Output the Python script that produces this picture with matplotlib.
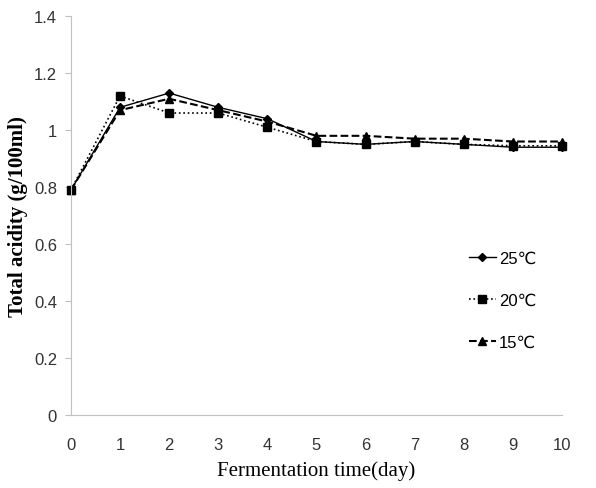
import numpy as np
import matplotlib.pyplot as plt

# Fermentation days
days = np.arange(0, 11)

# Total acidity (g/100ml) for each temperature
acid_25 = [0.79, 1.08, 1.13, 1.08, 1.04, 0.96, 0.95, 0.96, 0.95, 0.94, 0.94]
acid_20 = [0.79, 1.12, 1.06, 1.06, 1.01, 0.96, 0.95, 0.96, 0.95, 0.945, 0.945]
acid_15 = [0.79, 1.07, 1.11, 1.07, 1.03, 0.98, 0.98, 0.97, 0.97, 0.96, 0.96]

labels = ["25\u2103", "20\u2103", "15\u2103"]
yticks = [0, 0.2, 0.4, 0.6, 0.8, 1, 1.2, 1.4]
ytick_labels = ["0", "0.2", "0.4", "0.6", "0.8", "1", "1.2", "1.4"]

fig = plt.figure(figsize=(5.96, 4.89), dpi=100)
ax = fig.add_axes([0.119, 0.149, 0.824, 0.816])

ax.plot(days, acid_25, color="black", linestyle="-", linewidth=1, marker="D",
        markersize=4, label=labels[0], clip_on=False)
ax.plot(days, acid_20, color="black", linestyle=":", linewidth=1.2, marker="s",
        markersize=6, label=labels[1], clip_on=False)
ax.plot(days, acid_15, color="black", linestyle="--", linewidth=1.5, marker="^",
        markersize=6, label=labels[2], clip_on=False)

ax.set_xlim(0, 10)
ax.set_ylim(0, 1.4)
ax.set_xticks(days)
ax.set_yticks(yticks)
ax.set_yticklabels(ytick_labels)

for s in ["top", "right"]:
    ax.spines[s].set_visible(False)
for s in ["left", "bottom"]:
    ax.spines[s].set_color("#c0c0c0")
ax.tick_params(axis="y", colors="#c0c0c0", labelcolor="#333333", length=4,
               labelsize=12, pad=6)
ax.tick_params(axis="x", length=0, labelcolor="#333333", labelsize=12, pad=16)
for lab in ax.get_xticklabels() + ax.get_yticklabels():
    lab.set_family("Liberation Sans")

ax.set_xlabel("Fermentation time(day)", family="Liberation Serif", fontsize=15,
              labelpad=6)
ax.set_ylabel("Total acidity (g/100ml)", family="Liberation Serif", fontsize=15,
              fontweight="bold", labelpad=4)

leg = ax.legend(loc="upper left", bbox_to_anchor=(0.78, 0.45), frameon=False,
                handlelength=1.6, labelspacing=1.62, handletextpad=0.2,
                prop={"family": ["Liberation Sans", "DejaVu Sans"], "size": 12})

plt.savefig("out.png", dpi=100)
